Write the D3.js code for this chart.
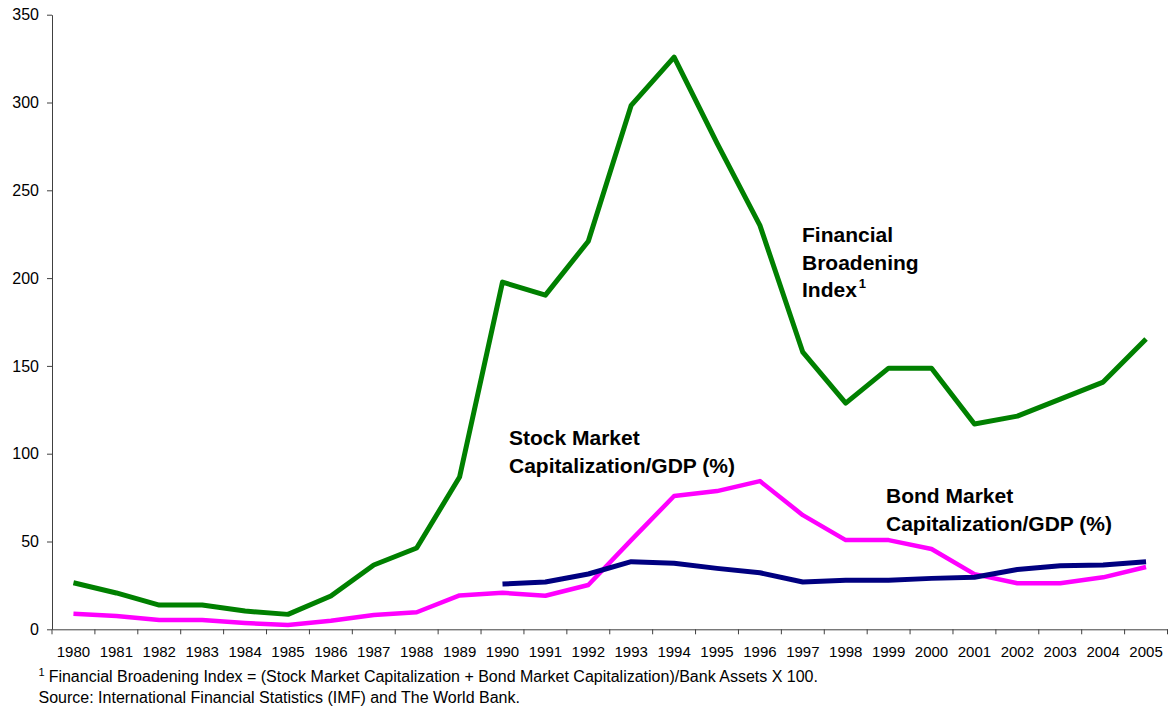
<!DOCTYPE html>
<html>
<head>
<meta charset="utf-8">
<script src="https://cdn.jsdelivr.net/npm/d3@7"></script>
<style>
  body { margin: 0; background: #fff; }
  svg text { font-family: Arial, "Liberation Sans", sans-serif; fill: #000; }
</style>
</head>
<body>
<svg id="canvas"></svg>
<script>
let years = ['1980','1981','1982','1983','1984','1985','1986','1987','1988','1989','1990','1991','1992',
             '1993','1994','1995','1996','1997','1998','1999','2000','2001','2002','2003','2004','2005']

let broadening = [26.5, 20.7, 13.8, 13.8, 10.4, 8.5, 19, 36.6, 46.3, 86.7, 197.7, 190.3, 221,
                  298.4, 325.8, 276.8, 230, 157.8, 128.8, 148.7, 148.7, 116.9, 121.4, 131.1, 140.8, 165.3]

let stock = [8.9, 7.6, 5.3, 5.3, 3.6, 2.4, 4.9, 8.1, 9.7, 19.3, 20.8, 19.1, 25.2,
             50.8, 75.9, 78.7, 84.4, 65, 50.8, 50.8, 45.7, 31.4, 26.2, 26.2, 29.6, 35.5]

// bond series starts in 1990
let bond = [null, null, null, null, null, null, null, null, null, null, 25.8, 26.9, 31.5,
            38.5, 37.6, 34.7, 32.2, 26.9, 28, 28, 29, 29.6, 34.1, 36.2, 36.6, 38.5]

let yTicks = [0, 50, 100, 150, 200, 250, 300, 350]

let w = 1172
let h = 710
let padLeft = 52
let padRight = 1167.5
let padTop = 14.7
let padBottom = 629.3

let canvas = d3.select('#canvas')
canvas.attr('width', w).attr('height', h)

let xScale = d3.scaleBand()
    .domain(years)
    .range([padLeft, padRight])
    .padding(0)

let yScale = d3.scaleLinear()
    .domain([0, 350])
    .range([padBottom, padTop])

// y axis
let yAxis = d3.axisLeft(yScale)
    .tickValues(yTicks)
    .tickSizeInner(5)
    .tickSizeOuter(0)
    .tickPadding(8)

let gy = canvas.append('g')
    .attr('transform', 'translate(' + padLeft + ',0)')
    .call(yAxis)
gy.selectAll('text').style('font-size', '16px')

// x axis: labels centred, ticks on category boundaries
let xAxis = d3.axisBottom(xScale)
    .tickSize(0)
    .tickPadding(17)

let gx = canvas.append('g')
    .attr('transform', 'translate(0,' + padBottom + ')')
    .call(xAxis)
gx.selectAll('text').style('font-size', '15px')

gx.selectAll('.bound')
    .data(years.concat(['end']))
    .enter()
    .append('line')
    .attr('class', 'bound')
    .attr('x1', (d, i) => padLeft + i * xScale.step())
    .attr('x2', (d, i) => padLeft + i * xScale.step())
    .attr('y1', 0)
    .attr('y2', 5)
    .attr('stroke', '#404040')

canvas.selectAll('.domain, .tick line').attr('stroke', '#404040')

// lines
let line = d3.line()
    .defined((d) => d != null)
    .x((d, i) => xScale(years[i]) + xScale.bandwidth() / 2)
    .y((d) => yScale(d))

let drawLine = (values, color, width) => {
    canvas.append('path')
        .datum(values)
        .attr('fill', 'none')
        .attr('stroke', color)
        .attr('stroke-width', width)
        .attr('stroke-linejoin', 'round')
        .attr('d', line)
}

drawLine(stock, '#ff00ff', 4.5)
drawLine(bond, '#000080', 5)
drawLine(broadening, '#008000', 5)

// series labels
let addLabel = (x, y, lines) => {
    let t = canvas.append('text')
        .attr('x', x)
        .attr('y', y)
        .style('font-size', '21px')
        .style('font-weight', 'bold')
    lines.forEach((l, i) => {
        t.append('tspan')
            .attr('x', x)
            .attr('dy', i == 0 ? 0 : 27.5)
            .text(l)
    })
    return t
}

let fbi = addLabel(802, 242, ['Financial', 'Broadening', 'Index'])
fbi.append('tspan')
    .attr('dx', 2)
    .attr('dy', -9)
    .style('font-size', '13px')
    .text('1')

addLabel(509, 445, ['Stock Market', 'Capitalization/GDP (%)'])
addLabel(886, 503, ['Bond Market', 'Capitalization/GDP (%)'])

// footnotes
let foot = canvas.append('text')
    .attr('x', 38.5)
    .attr('y', 682)
    .style('font-size', '16px')
foot.append('tspan')
    .attr('dy', -6)
    .style('font-size', '11px')
    .text('1')
foot.append('tspan')
    .attr('dx', 4)
    .attr('dy', 6)
    .text('Financial Broadening Index = (Stock Market Capitalization + Bond Market Capitalization)/Bank Assets X 100.')

canvas.append('text')
    .attr('x', 38.5)
    .attr('y', 702.5)
    .style('font-size', '16px')
    .text('Source: International Financial Statistics (IMF) and The World Bank.')
</script>
</body>
</html>
